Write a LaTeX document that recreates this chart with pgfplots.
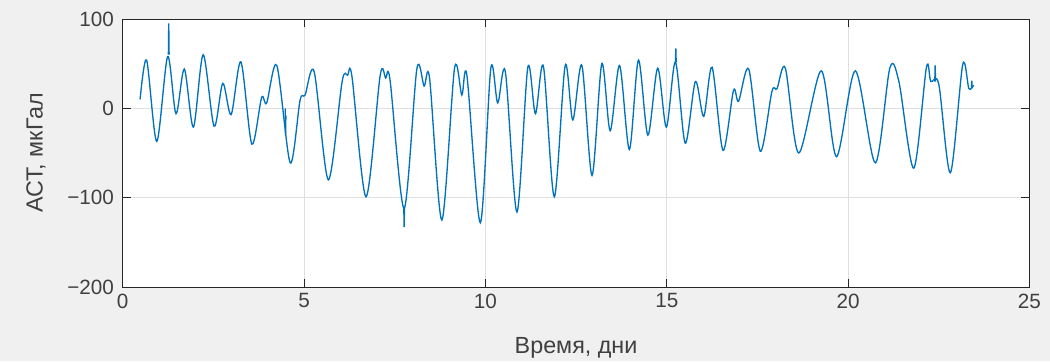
\documentclass[border=0pt]{standalone}
\usepackage{pgfplots}
\pgfplotsset{compat=1.18}
\usepackage{fontspec}
\setmainfont{Liberation Sans}
\definecolor{mblue}{HTML}{0072BD}
\definecolor{bgc}{HTML}{F0F0F0}
\definecolor{axc}{HTML}{262626}
\definecolor{txc}{HTML}{404040}
\definecolor{gridc}{HTML}{DFDFDF}
\begin{document}
\begin{tikzpicture}[x=1pt,y=1pt]
\fill[bgc] (-92.0,-55.5) rectangle (695.4,215.25);
\begin{axis}[at={(0,0)},anchor=south west, scale only axis,
  width=680pt, height=201pt,
  xmin=0,xmax=25,ymin=-200,ymax=100,
  xtick={0,5,10,15,20,25}, ytick={-200,-100,0,100},
  xticklabels={0,5,10,15,20,25},
  yticklabels={−200,−100,0,100},
  grid=major, major grid style={gridc, line width=0.6pt},
  axis line style={axc, line width=0.75pt},
  tick style={axc, line width=0.75pt},
  tick align=inside, major tick length=6pt,
  axis background/.style={fill=white},
  ticklabel style={font=\fontsize{15.5}{16}\selectfont, text=txc},
  xticklabel style={yshift=-1.5pt},
  yticklabel style={xshift=-3pt},
  every axis x label/.style={at={(axis description cs:0.5,-0.2488)}, anchor=base, inner sep=0pt},
  every axis y label/.style={at={(axis description cs:-0.0882,0.5)}, rotate=90, anchor=base, inner sep=0pt},
  label style={font=\fontsize{17.5}{18}\selectfont, text=txc},
  xlabel={Время, дни}, ylabel={АСТ, мкГал},
]
\addplot[mblue, line width=1pt, smooth, tension=0.5] coordinates {
(0.48,10) (0.66,54) (0.94,-37) (1.24,58) (1.47,-6) (1.70,44) (1.95,-21)
(2.22,60) (2.52,-20) (2.76,28) (2.99,-7) (3.26,52) (3.56,-40) (3.83,12)
(3.97,6) (4.25,48) (4.62,-61) (4.89,9) (5.03,15) (5.28,41) (5.67,-80)
(6.05,30) (6.20,37) (6.32,36) (6.71,-99) (7.10,37) (7.25,34) (7.37,32) (7.76,-112) (8.11,44)
(8.31,25) (8.46,34) (8.80,-125) (9.15,45) (9.35,15) (9.49,37) (9.86,-128)
(10.15,45) (10.34,6) (10.55,41) (10.87,-116) (11.17,46) (11.38,-6)
(11.60,47) (11.90,-99) (12.20,48) (12.41,-13) (12.66,48) (12.94,-75)
(13.21,50) (13.44,-25) (13.70,48) (13.97,-46) (14.22,54) (14.48,-30)
(14.75,45) (14.99,-21) (15.24,52) (15.51,-39) (15.79,30) (16.02,-9)
(16.25,46) (16.55,-47) (16.84,20) (16.98,8) (17.26,44) (17.58,-48)
(17.90,19) (18.04,22) (18.27,45) (18.64,-50) (19.26,42) (19.68,-54)
(20.20,42) (20.75,-61) (21.15,45) (21.40,30) (21.81,-67) (22.16,46)
(22.28,30) (22.50,27) (22.82,-72) (23.16,49) (23.33,22) (23.46,26)
};
\addplot[mblue, line width=1pt] coordinates {(1.26,60) (1.27,95) (1.28,60)};
\addplot[mblue, line width=1pt] coordinates {(4.48,0) (4.49,-30) (4.50,-8)};
\addplot[mblue, line width=1pt] coordinates {(7.75,-110) (7.76,-133) (7.77,-110)};
\addplot[mblue, line width=1pt] coordinates {(15.24,52) (15.25,67) (15.26,52)};
\addplot[mblue, line width=1pt] coordinates {(22.39,30) (22.40,48) (22.41,30)};
\addplot[mblue, line width=1pt] coordinates {(23.40,22) (23.41,31) (23.42,24)};
\end{axis}
\pgfresetboundingbox
\path (-92.0,-55.5) rectangle (695.4,215.25);
\end{tikzpicture}
\end{document}
